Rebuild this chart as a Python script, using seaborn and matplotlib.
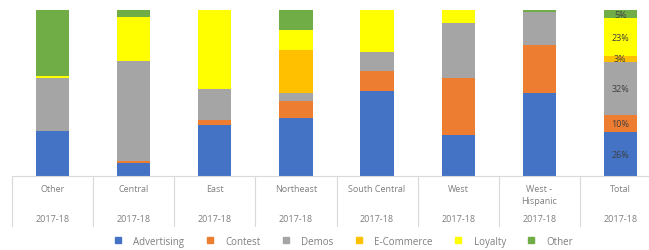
import matplotlib
matplotlib.use("Agg")
import matplotlib.pyplot as plt
import matplotlib.transforms as mtransforms
from matplotlib.lines import Line2D
import seaborn as sns
import numpy as np
import pandas as pd


# Data (share of spend, %)

regions = ["Other", "Central", "East", "Northeast", "South Central",
           "West", "West -\nHispanic", "Total"]
year_label = "2017-18"

advertising = [27, 8, 30.5, 35, 51, 25, 50, 26.4]
contest = [0, 1, 3, 10, 12, 34, 29, 10.2]
demos = [32, 60, 19, 5, 12, 33, 20, 32.3]
ecommerce = [0, 0, 0, 26, 0, 0, 0, 3.2]
loyalty = [1, 27, 47.5, 12, 25, 8, 0, 22.9]
other = [40, 4, 0, 12, 0, 0, 1, 5.0]

series_names = ["Advertising", "Contest", "Demos", "E-Commerce", "Loyalty", "Other"]
series_values = [advertising, contest, demos, ecommerce, loyalty, other]
colors = ["#4472C4", "#ED7D31", "#A5A5A5", "#FFC000", "#FFFF00", "#70AD47"]


sns.set_theme(style="white")
plt.rcParams["font.family"] = ["Open Sans", "DejaVu Sans"]

fig = plt.figure(figsize=(6.49, 2.51), dpi=100)
ax = fig.add_axes([12 / 649, 74 / 251, 1.0, 166 / 251])

# stacked bars: draw cumulative totals from the top series down
values = np.array(series_values, dtype=float)
cum = np.cumsum(values, axis=0)
x_keys = [f"c{i}" for i in range(len(regions))]

for i in range(len(series_names) - 1, -1, -1):
    df = pd.DataFrame({"region": x_keys, "value": cum[i]})
    sns.barplot(data=df, x="region", y="value", color=colors[i],
                width=0.41, saturation=1, ax=ax, edgecolor="none")

ax.set_ylim(0, 100)
ax.set_xlim(-0.5, len(regions) - 0.5)
ax.set_yticks([])
ax.set_xticks([])
ax.set_xlabel("")
ax.set_ylabel("")
for side in ["left", "right", "top"]:
    ax.spines[side].set_visible(False)
ax.spines["bottom"].set_color("#D9D9D9")
ax.spines["bottom"].set_linewidth(0.8)

# data labels on the Total bar
last = len(regions) - 1
for i in range(len(series_names)):
    v = values[i, last]
    if v <= 0:
        continue
    mid = cum[i, last] - v / 2
    ax.text(last, mid, f"{v:.0f}%", ha="center", va="center",
            fontsize=6.5, color="#404040")

# category axis labels with dividers
trans = mtransforms.blended_transform_factory(ax.transData, ax.transAxes)
axis_px = 166
for j, name in enumerate(regions):
    ax.text(j, -8 / axis_px, name, transform=trans, ha="center", va="top",
            fontsize=6.5, color="#7F7F7F", linespacing=1.5)
    ax.text(j, -43 / axis_px, year_label, transform=trans, ha="center",
            va="center", fontsize=6.5, color="#7F7F7F")
for j in range(len(regions) + 1):
    ax.add_line(Line2D([j - 0.5, j - 0.5], [0, -50 / axis_px], transform=trans,
                       color="#D9D9D9", lw=0.8, clip_on=False))

# legend
handles = [Line2D([0], [0], marker="s", linestyle="", markersize=4.5,
                  markerfacecolor=c, markeredgecolor=c) for c in colors]
fig.legend(handles, series_names, loc="center", bbox_to_anchor=(0.525, 0.035),
           ncol=6, frameon=False, fontsize=7, labelcolor="#7F7F7F",
           handletextpad=0.6, columnspacing=1.6)

fig.savefig("out.png", dpi=100, facecolor="white")
